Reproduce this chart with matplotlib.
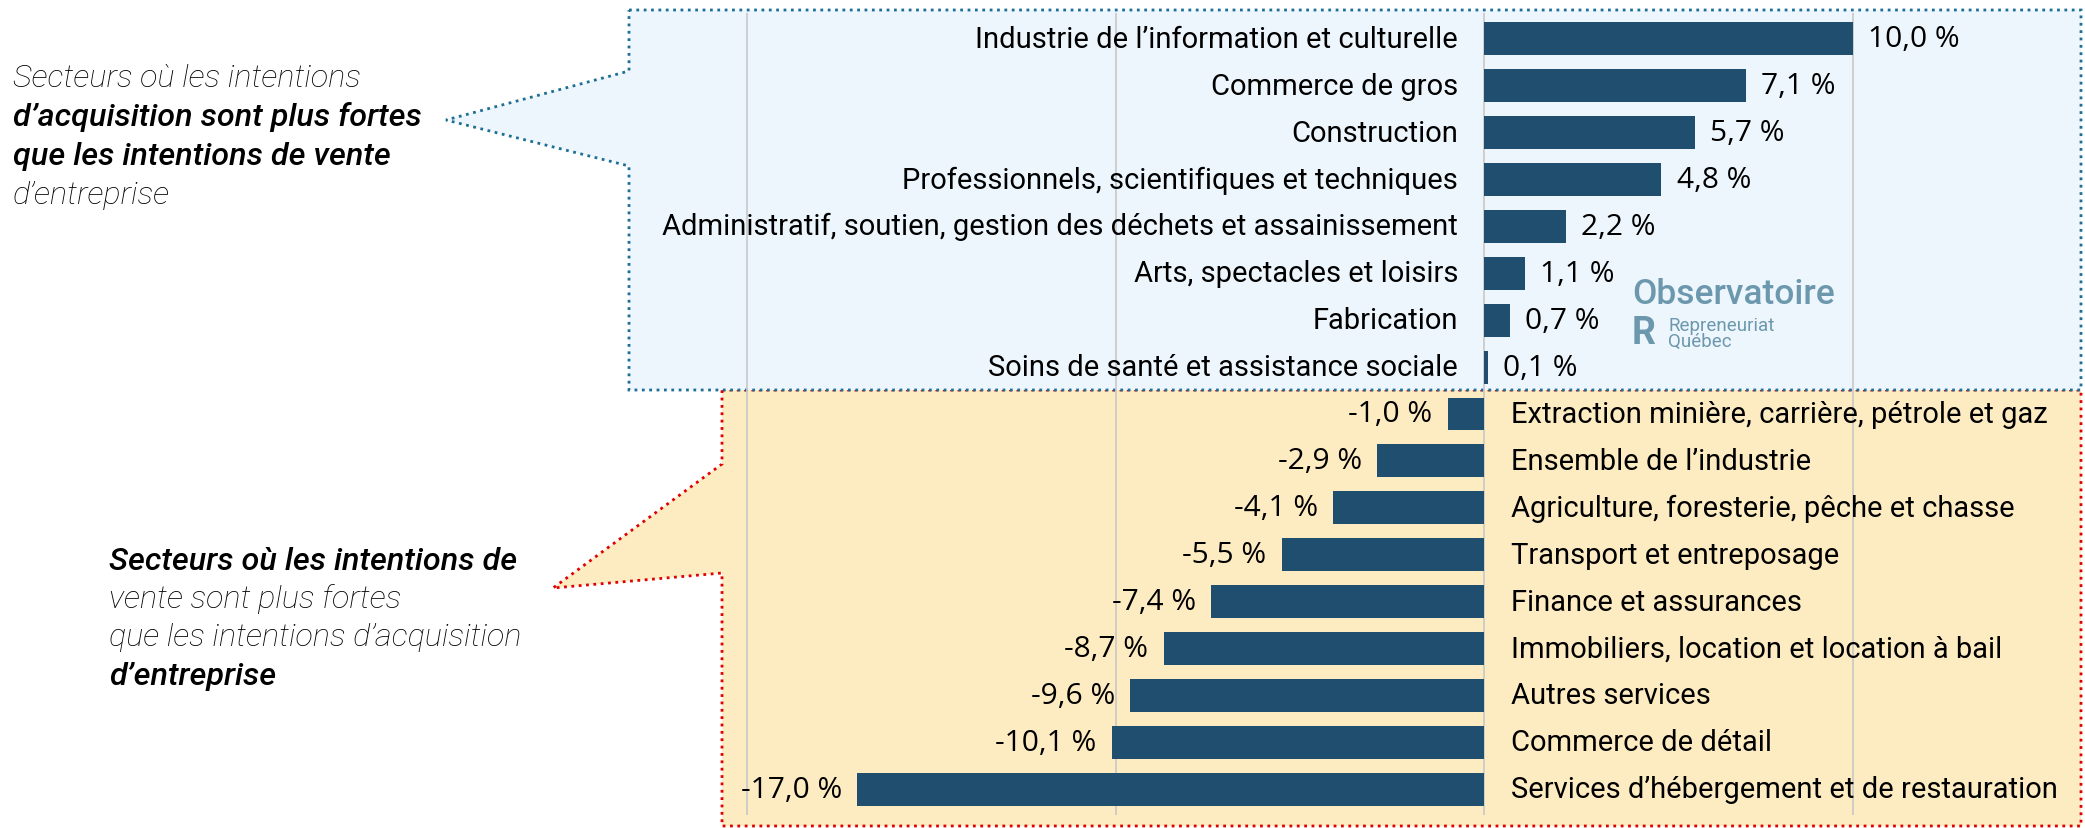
import matplotlib
matplotlib.use("Agg")
import matplotlib.pyplot as plt
from matplotlib.patches import Polygon

categories = [
    "Industrie de l’information et culturelle",
    "Commerce de gros",
    "Construction",
    "Professionnels, scientifiques et techniques",
    "Administratif, soutien, gestion des déchets et assainissement",
    "Arts, spectacles et loisirs",
    "Fabrication",
    "Soins de santé et assistance sociale",
    "Extraction minière, carrière, pétrole et gaz",
    "Ensemble de l’industrie",
    "Agriculture, foresterie, pêche et chasse",
    "Transport et entreposage",
    "Finance et assurances",
    "Immobiliers, location et location à bail",
    "Autres services",
    "Commerce de détail",
    "Services d’hébergement et de restauration",
]
values = [10.0, 7.1, 5.7, 4.8, 2.2, 1.1, 0.7, 0.1,
          -1.0, -2.9, -4.1, -5.5, -7.4, -8.7, -9.6, -10.1, -17.0]
grid_ticks = [-20, -10, 0, 10]

W, H = 2085, 829
fig = plt.figure(figsize=(W / 100, H / 100), dpi=100)

# background layer in pixel coords for the two callout boxes
bg = fig.add_axes([0, 0, 1, 1], zorder=0)
bg.set_xlim(0, W)
bg.set_ylim(H, 0)
bg.axis("off")

blue_box = [(629, 11), (2081, 11), (2081, 391), (629, 391), (629, 167), (446, 121), (629, 72)]
yellow_box = [(722, 391), (2081, 391), (2081, 827), (722, 827), (722, 574), (553, 589), (722, 465)]
bg.add_patch(Polygon(yellow_box, closed=True, facecolor="#fdebc1", edgecolor="#e00000",
                     linestyle=":", linewidth=2))
bg.add_patch(Polygon(blue_box, closed=True, facecolor="#eef6fd", edgecolor="#1f6e94",
                     linestyle=":", linewidth=2))

font = "Roboto"
txt1 = [("Secteurs où les intentions", "light"),
        ("d’acquisition sont plus fortes", "medium"),
        ("que les intentions de vente", "medium"),
        ("d’entreprise", "light")]
for i, (s, w) in enumerate(txt1):
    bg.text(13, 78 + i * 39, s, fontsize=23.3, style="italic", weight=w, color="black",
            family=font, va="center", ha="left")

txt2 = [("Secteurs où les intentions de", "medium"),
        ("vente sont plus fortes", "light"),
        ("que les intentions d’acquisition", "light"),
        ("d’entreprise", "medium")]
for i, (s, w) in enumerate(txt2):
    bg.text(109, 561 + i * 38.5, s, fontsize=23.3, style="italic", weight=w, color="black",
            family=font, va="center", ha="left")

# logo
logo_c = "#6c98ad"
bg.text(1632, 294, "Observatoire", fontsize=25.5, weight="medium", color=logo_c,
        family=font, va="center", ha="left")
bg.text(1632, 333, "R", fontsize=27, weight="bold", color=logo_c,
        family=font, va="center", ha="left")
bg.text(1668, 326, "Repreneuriat", fontsize=13.5, color=logo_c, family=font,
        va="center", ha="left")
bg.text(1668, 342, "Québec", fontsize=13.5, color=logo_c, family=font,
        va="center", ha="left")

# main bar chart
ax = fig.add_axes([745 / W, 1 - 816 / H, (1855 - 745) / W, (816 - 14) / H], zorder=1)
ax.set_facecolor("none")
y = list(range(len(categories)))
ax.barh(y, values, height=0.7, color="#1f4e6f", zorder=2)
ax.set_xlim(-20.05, 10.05)
ax.set_ylim(len(categories) - 0.45, -0.55)
ax.set_xticks(grid_ticks)
ax.grid(axis="x", color="#c8c8c8", linewidth=1.2, zorder=0)
ax.set_axisbelow(True)
ax.tick_params(length=0, labelbottom=False, labelleft=False)
for sp in ax.spines.values():
    sp.set_visible(False)

for yi, (cat, v) in enumerate(zip(categories, values)):
    lab = f"{v:.1f}".replace(".", ",") + " %"
    if v >= 0:
        ax.annotate(cat, (0, yi), xytext=(-19, 0), textcoords="offset points",
                    ha="right", va="center", fontsize=21, family=font, color="black")
        ax.annotate(lab, (v, yi), xytext=(11, 0), textcoords="offset points",
                    ha="left", va="center", fontsize=21.5, family="Open Sans", color="black")
    else:
        ax.annotate(cat, (0, yi), xytext=(19, 0), textcoords="offset points",
                    ha="left", va="center", fontsize=21, family=font, color="black")
        ax.annotate(lab, (v, yi), xytext=(-11, 0), textcoords="offset points",
                    ha="right", va="center", fontsize=21.5, family="Open Sans", color="black")

fig.savefig("out.png", dpi=100)
